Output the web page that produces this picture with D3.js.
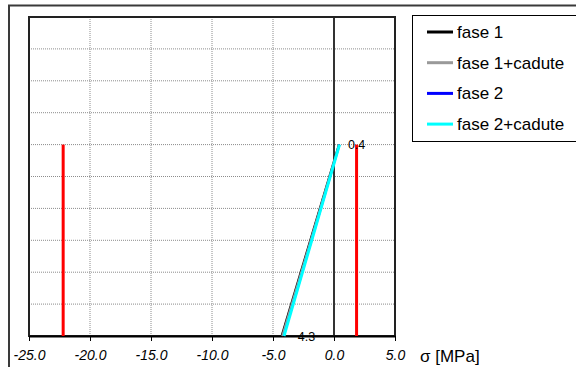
<!DOCTYPE html>
<html>
<head>
<meta charset="utf-8">
<script src="https://cdn.jsdelivr.net/npm/d3@7/dist/d3.min.js"></script>
<style>
  html, body { margin: 0; padding: 0; background: #fff; }
  svg { display: block; font-family: "Liberation Sans", Arial, sans-serif; }
</style>
</head>
<body>
<svg id="chart" width="576" height="367"></svg>
<script>
// Stress diagram across the section height: sigma [MPa] on x, relative height on y
const xTicks = [-25, -20, -15, -10, -5, 0, 5];
const xTickLabels = ["-25.0", "-20.0", "-15.0", "-10.0", "-5.0", "0.0", "5.0"];
const yGrid = [0, 0.1, 0.2, 0.3, 0.4, 0.5, 0.6, 0.7, 0.8, 0.9, 1.0];

// Stress at bottom (h = 0) and top (h = 0.6) of the section, per phase
const seriesNames = ["fase 1", "fase 1+cadute", "fase 2", "fase 2+cadute"];
const seriesColors = ["#000000", "#999999", "#0000ff", "#00ffff"];
const sigmaBottom = [-4.3, -4.25, -4.12, -4.1];
const sigmaTop = [0.4, 0.42, 0.45, 0.45];
const sectionHeights = [0, 0.6];

// Allowable stress limits (compression / tension)
const limits = [-22.2, 1.85];
const limitColor = "#ff0000";

// Values written next to the "fase 1" ends
const labelSeries = 0;

const svg = d3.select("#chart");

const x = d3.scaleLinear().domain([-25, 5]).range([29, 395]);
const y = d3.scaleLinear().domain([0, 1]).range([336, 17]);

// outer frame (top and left edges)
svg.append("path")
  .attr("d", "M9,368 L9,5.5 L577,5.5")
  .attr("fill", "none").attr("stroke", "#3a3a3a").attr("stroke-width", 2);

// horizontal grid
svg.append("g").selectAll("line").data(yGrid.slice(1, -1)).join("line")
  .attr("x1", x(-25)).attr("x2", x(5))
  .attr("y1", d => y(d)).attr("y2", d => y(d))
  .attr("stroke", "#8c8c8c").attr("stroke-width", 1)
  .attr("stroke-dasharray", "1,1");

// vertical grid
svg.append("g").selectAll("line").data(xTicks.filter(d => d !== -25 && d !== 0 && d !== 5)).join("line")
  .attr("x1", d => x(d)).attr("x2", d => x(d))
  .attr("y1", y(1)).attr("y2", y(0))
  .attr("stroke", "#8c8c8c").attr("stroke-width", 1)
  .attr("stroke-dasharray", "1,1");

// zero line
svg.append("line")
  .attr("x1", x(0)).attr("x2", x(0)).attr("y1", y(1)).attr("y2", y(0))
  .attr("stroke", "#333").attr("stroke-width", 2);

// plot frame
svg.append("rect")
  .attr("x", x(-25)).attr("y", y(1))
  .attr("width", x(5) - x(-25)).attr("height", y(0) - y(1))
  .attr("fill", "none").attr("stroke", "#222").attr("stroke-width", 2);

// x axis
const xAxis = d3.axisBottom(x)
  .tickValues(xTicks)
  .tickFormat((d, i) => xTickLabels[i])
  .tickSizeInner(5).tickSizeOuter(0).tickPadding(9);

const gx = svg.append("g").attr("transform", `translate(0,${y(0)})`).call(xAxis);
gx.select(".domain").attr("stroke", "#000").attr("stroke-width", 2);
gx.selectAll(".tick line").attr("stroke", "#000").attr("stroke-width", 1);
gx.selectAll(".tick text")
  .attr("font-family", "'Liberation Sans', Arial, sans-serif")
  .attr("font-size", 14).attr("font-style", "italic").attr("fill", "#000");

svg.append("text")
  .attr("x", 420).attr("y", 362)
  .attr("font-size", 17).attr("fill", "#000")
  .text("σ [MPa]");

// limit lines
svg.append("g").selectAll("line").data(limits).join("line")
  .attr("x1", d => x(d)).attr("x2", d => x(d))
  .attr("y1", y(sectionHeights[0])).attr("y2", y(sectionHeights[1]))
  .attr("stroke", limitColor).attr("stroke-width", 3);

// stress distributions
const line = d3.line().x(d => x(d[0])).y(d => y(d[1]));
seriesNames.forEach((name, i) => {
  svg.append("path")
    .datum([[sigmaBottom[i], sectionHeights[0]], [sigmaTop[i], sectionHeights[1]]])
    .attr("d", line)
    .attr("fill", "none")
    .attr("stroke", seriesColors[i])
    .attr("stroke-width", i === 3 ? 3 : 2);
});

// end value labels
[[sigmaTop[labelSeries], sectionHeights[1]], [sigmaBottom[labelSeries], sectionHeights[0]]].forEach(p => {
  svg.append("text")
    .attr("x", x(p[0]) + 9).attr("y", y(p[1]) + 4.5)
    .attr("font-size", 12.5).attr("fill", "#000")
    .text(d3.format(".1f")(p[0]));
});

// legend
const lg = svg.append("g");
lg.append("rect")
  .attr("x", 412.5).attr("y", 15.5).attr("width", 200).attr("height", 126)
  .attr("fill", "#fff").attr("stroke", "#000").attr("stroke-width", 1);
seriesNames.forEach((name, i) => {
  const yy = 32 + i * 30.7;
  lg.append("line")
    .attr("x1", 427).attr("x2", 453).attr("y1", yy).attr("y2", yy)
    .attr("stroke", seriesColors[i]).attr("stroke-width", 3);
  lg.append("text")
    .attr("x", 457).attr("y", yy + 6)
    .attr("font-size", 17).attr("fill", "#000")
    .text(name);
});
</script>
</body>
</html>
